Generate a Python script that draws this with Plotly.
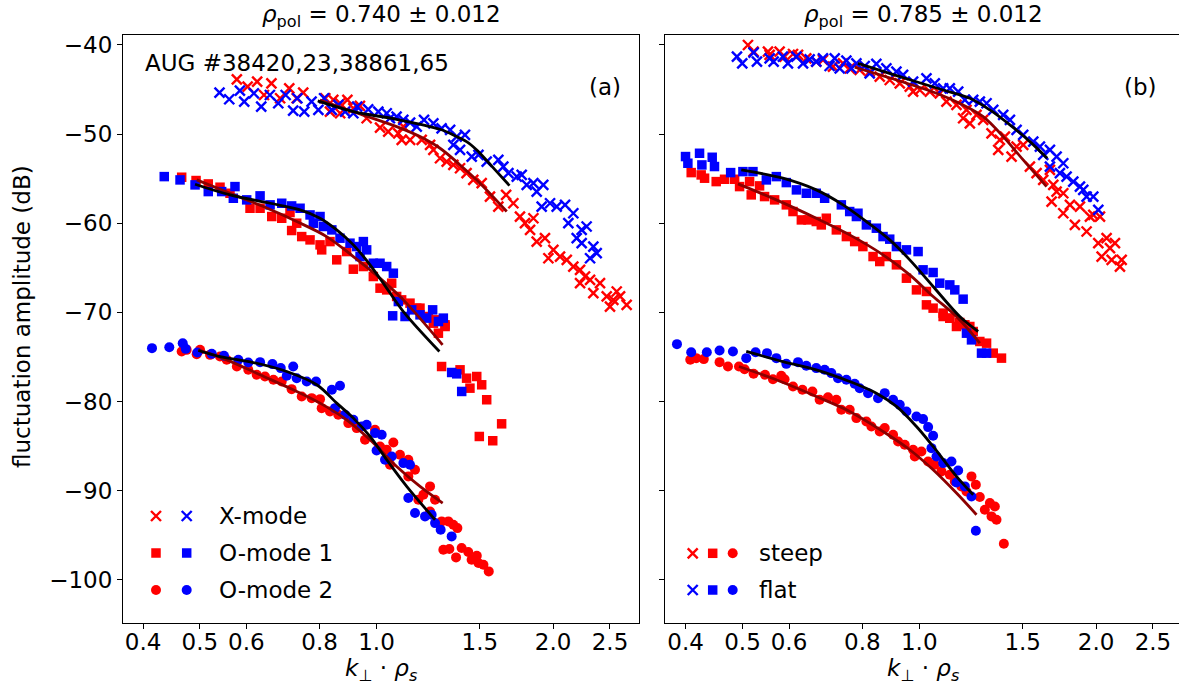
import plotly.graph_objects as go

# ---------------- data ----------------
# panel (a): rho_pol = 0.740
a_x_red_k = [0.578,0.603,0.626,0.662,0.643,0.685,0.710,0.731,0.750,0.818,0.844,0.867,0.892,0.833,0.867,0.913,0.937,0.962,1.014,1.047,
             1.089,1.111,1.141,1.104,1.194,1.234,1.250,1.283,1.317,1.352,1.388,1.424,1.462,1.511,1.561,1.613,1.663,1.711,1.756,1.791,
             1.851,1.827,1.875,1.937,2.002,1.963,2.055,2.110,2.165,2.223,2.267,2.312,2.223,2.342,2.404,2.468,2.533,2.567,2.601,2.669,2.500]
a_x_red_db = [-43.85,-44.67,-44.11,-44.30,-45.61,-45.98,-44.86,-45.98,-45.35,-45.98,-46.17,-46.54,-46.17,-47.48,-47.66,-47.10,-46.84,-48.22,-49.27,-49.72,
              -49.91,-49.16,-50.65,-50.65,-50.65,-51.21,-51.78,-52.71,-53.08,-53.46,-53.83,-54.39,-55.14,-55.51,-57.01,-58.13,-56.82,-57.76,-59.25,-60.00,
              -59.44,-60.75,-62.06,-61.68,-62.99,-63.93,-63.74,-64.11,-64.86,-65.23,-65.98,-66.36,-66.73,-67.85,-66.73,-68.22,-68.60,-67.66,-68.22,-69.16,-69.35]
a_x_blue_k = [0.540,0.561,0.585,0.595,0.618,0.636,0.658,0.680,0.700,0.721,0.753,0.733,0.775,0.796,0.814,0.839,0.861,0.884,0.913,0.927,
              0.968,1.007,1.041,1.054,1.082,1.111,1.141,1.171,1.205,1.250,1.291,1.335,1.370,1.415,1.352,1.388,1.453,1.492,1.541,1.613,
              1.645,1.678,1.734,1.768,1.803,1.851,1.924,1.875,1.912,1.976,2.028,2.096,2.123,2.165,2.237,2.281,2.194,2.237,2.342,2.373,2.312]
a_x_blue_db = [-45.35,-46.09,-45.12,-46.36,-45.42,-46.92,-45.61,-46.54,-45.61,-47.36,-47.48,-45.98,-46.36,-47.29,-45.98,-47.29,-46.73,-47.48,-47.66,-46.92,
               -47.22,-47.48,-47.66,-48.22,-48.04,-48.41,-48.71,-49.16,-48.41,-48.79,-49.35,-49.53,-50.28,-50.09,-51.21,-51.78,-52.52,-52.34,-53.08,-52.90,
               -53.64,-54.39,-54.77,-54.58,-55.70,-55.51,-55.70,-56.45,-58.13,-57.76,-58.13,-57.94,-60.00,-58.88,-60.75,-60.37,-61.68,-62.24,-62.62,-63.36,-63.93]
a_x_fitblack_k = [0.794,0.913,1.082,1.283,1.352,1.424,1.482,1.541,1.603,1.685]
a_x_fitblack_db = [-46.28,-47.48,-48.34,-49.46,-50.09,-50.84,-51.78,-52.97,-54.21,-55.78]
a_x_fitred_k = [0.801,0.937,1.082,1.186,1.283,1.388,1.501,1.667]
a_x_fitred_db = [-46.17,-47.74,-49.16,-50.28,-51.59,-53.46,-55.51,-58.69]

a_o1_red_k = [0.4655,0.4925,0.5167,0.5411,0.5627,0.6087,0.6332,0.6629,0.6894,0.7121,0.7311,0.7167,0.7456,0.7704,0.8012,0.8331,0.8064,0.8554,0.8894,0.9131,
              0.9497,0.9876,1.0139,1.0407,1.0614,1.0823,1.1037,1.1405,1.1861,1.2258,1.2666,1.3087,1.171,1.250,1.275,1.309,1.291,1.388,1.424,1.443,
              1.482,1.511,1.541,1.634,1.497,1.578]
a_o1_red_db = [-54.84,-55.21,-55.59,-55.96,-56.64,-58.32,-58.32,-59.25,-59.44,-58.80,-60.00,-60.82,-61.50,-61.87,-62.43,-62.06,-62.99,-64.11,-63.18,-65.16,
               -64.86,-65.98,-67.29,-67.48,-66.73,-68.22,-68.60,-68.97,-69.53,-70.47,-70.84,-71.40,-69.53,-71.22,-72.34,-71.59,-76.08,-76.45,-77.39,-78.51,
               -77.20,-78.13,-79.81,-82.51,-83.93,-84.41]
a_o1_blue_k = [0.4347,0.4625,0.4906,0.5167,0.5446,0.5738,0.5701,0.6008,0.6332,0.6586,0.6894,0.7167,0.7408,0.7704,0.8012,0.7805,0.8117,0.8392,0.8665,0.9012,
               0.9251,0.9497,0.9621,0.9374,0.9876,1.0139,1.0407,1.0683,1.0894,1.0655,1.1184,1.1480,1.1861,1.2177,1.2465,1.2752,1.2999,1.343,1.370,1.397]
a_o1_blue_db = [-54.77,-55.14,-55.70,-56.45,-56.45,-55.89,-57.20,-57.38,-56.93,-57.94,-57.76,-58.06,-58.32,-59.07,-59.25,-60.00,-60.37,-60.75,-61.68,-62.24,
                -62.62,-62.06,-62.99,-63.74,-64.49,-64.49,-64.86,-65.61,-68.79,-70.39,-70.47,-69.72,-70.28,-70.65,-69.72,-71.03,-70.65,-76.75,-76.90,-78.88]
a_o1_fitblack_k = [0.4906,0.5627,0.6586,0.7408,0.8012,0.8554,0.9131,0.975,1.0407,1.111,1.280]
a_o1_fitblack_db = [-55.63,-56.82,-57.76,-58.50,-59.44,-60.75,-62.43,-64.67,-67.29,-69.91,-74.39]
a_o1_fitred_k = [0.4939,0.5627,0.6413,0.7311,0.8220,0.9131,1.0139,1.1111,1.296]
a_o1_fitred_db = [-55.14,-56.64,-58.13,-59.81,-61.50,-63.74,-66.17,-68.60,-73.65]

a_o2_red_k = [0.4655,0.4747,0.4937,0.5003,0.5203,0.5411,0.5555,0.578,0.6046,0.6249,0.6455,0.6673,0.6894,0.7167,0.7456,0.7754,0.8012,0.8064,0.8331,0.8606,
              0.8953,0.9251,0.9559,0.9941,1.0139,1.0407,1.0683,1.0544,1.0965,1.1330,1.1330,1.1631,1.1785,1.2019,1.2338,1.2338,1.2583,1.2913,1.3257,1.3518,
              1.3736,1.2999,1.3309,1.3664,1.3966,1.4335,1.4525,1.4823,1.4918,1.5214,1.5535]
a_o2_red_db = [-74.39,-74.21,-74.69,-74.21,-74.77,-74.96,-75.33,-76.08,-76.45,-77.01,-77.20,-77.57,-77.76,-78.62,-79.44,-79.63,-79.74,-80.75,-81.12,-81.50,
               -82.43,-82.99,-84.30,-83.18,-85.05,-85.42,-84.60,-87.10,-85.98,-86.54,-88.41,-87.67,-91.03,-90.47,-89.53,-92.34,-91.03,-93.46,-93.46,-93.83,
               -94.21,-96.64,-96.56,-97.50,-96.45,-96.90,-97.76,-97.31,-98.13,-98.32,-99.07]
a_o2_blue_k = [0.4143,0.4434,0.4674,0.4729,0.4950,0.5238,0.5496,0.5814,0.6046,0.6332,0.6646,0.6867,0.7030,0.7211,0.7311,0.7604,0.7888,0.8392,0.8665,0.8496,
               0.8838,0.9131,0.9435,0.9621,0.9941,1.0205,1.0003,1.0339,1.0614,1.1111,1.1405,1.1330,1.1631,1.2097,1.2417,1.2583,1.2863,1.3430]
a_o2_blue_db = [-74.02,-73.91,-73.46,-74.10,-74.51,-74.66,-74.88,-75.33,-75.63,-75.59,-75.81,-76.26,-77.12,-76.08,-77.39,-77.76,-77.76,-78.69,-78.24,-80.75,
                -81.50,-82.06,-82.81,-82.62,-83.55,-83.74,-85.50,-86.54,-86.17,-86.92,-87.10,-90.84,-92.52,-92.90,-92.71,-93.65,-94.39,-95.14]
a_o2_fitblack_k = [0.4970,0.5411,0.6167,0.7030,0.7908,0.8554,0.9131,0.9749,1.0407,1.1257,1.2583]
a_o2_fitblack_db = [-74.28,-74.96,-75.63,-76.64,-78.13,-80.19,-81.87,-83.93,-86.54,-89.53,-93.27]
a_o2_fitred_k = [0.4970,0.5555,0.6332,0.7211,0.8012,0.8894,0.9749,1.0823,1.1861,1.2966]
a_o2_fitred_db = [-74.21,-75.33,-77.01,-78.69,-80.19,-82.06,-84.30,-87.29,-89.53,-91.40]

# panel (b): rho_pol = 0.785
b_x_red_k = [0.5108,0.5222,0.5525,0.5561,0.5783,0.5897,0.6095,0.6216,0.6421,0.6677,0.6855,0.7129,0.7415,0.7612,0.7916,0.8233,0.8564,0.8906,0.9263,0.9634,
             0.9761,1.0020,1.0421,1.0837,1.1124,1.1570,1.2034,1.1877,1.2193,1.2516,1.2848,1.3275,1.3717,1.3627,1.3989,1.4361,1.4645,1.5031,1.5431,1.5840,
             1.6259,1.6692,1.6913,1.7135,1.6801,1.7589,1.7589,1.8054,1.8408,1.8776,1.9273,1.9527,1.9785,2.0311,2.0177,2.0845,2.1122,2.0443,2.1539,2.1262,
             2.1965,2.2113]
b_x_red_db = [-40.00,-40.75,-40.75,-41.12,-40.75,-41.31,-41.01,-41.12,-41.50,-41.87,-41.68,-42.43,-42.06,-42.62,-42.80,-42.99,-43.55,-43.93,-44.30,-44.67,
              -45.23,-45.05,-45.23,-45.42,-46.36,-46.73,-47.29,-48.22,-48.79,-47.85,-48.41,-49.91,-50.65,-51.78,-50.28,-52.52,-51.40,-51.21,-53.64,-54.39,
              -55.14,-54.02,-55.70,-56.45,-57.57,-56.64,-58.88,-57.94,-60.19,-58.13,-60.93,-59.25,-59.07,-59.25,-62.24,-61.68,-62.80,-63.74,-62.24,-64.11,
              -64.86,-64.11]
b_x_blue_k = [0.4892,0.4995,0.5222,0.5291,0.5561,0.5649,0.5858,0.5975,0.6177,0.6339,0.6506,0.6677,0.6855,0.7036,0.7178,0.7320,0.7514,0.7663,0.7815,0.8074,
              0.8233,0.8451,0.8790,0.9143,0.9385,0.9761,1.0285,1.0627,1.0980,1.1272,1.1648,1.1957,1.2355,1.2680,1.3020,1.3365,1.3896,1.4268,1.4645,1.5031,
              1.5636,1.6048,1.6259,1.6692,1.7135,1.7589,1.6692,1.7358,1.7819,1.8292,1.8776,1.9022,1.9273,1.9785,2.0177]
b_x_blue_db = [-41.31,-42.06,-40.86,-41.87,-41.50,-41.87,-41.31,-42.06,-41.31,-42.06,-41.61,-41.87,-41.50,-42.36,-41.50,-42.62,-41.76,-42.62,-42.06,-42.36,
               -43.18,-42.13,-42.62,-42.99,-43.36,-44.11,-43.74,-44.30,-44.86,-44.86,-45.23,-46.17,-46.17,-46.36,-46.54,-47.29,-47.85,-48.41,-49.53,-50.09,
               -50.84,-51.40,-52.34,-51.78,-52.52,-53.27,-53.64,-54.39,-54.77,-55.33,-55.89,-56.26,-57.01,-57.01,-58.50]
b_x_fitblack_k = [0.7864,0.9263,1.0980,1.2193,1.3190,1.4268,1.5431,1.6516]
b_x_fitblack_db = [-42.06,-43.55,-45.05,-45.98,-47.29,-48.97,-50.84,-52.71]
b_x_fitred_k = [0.7762,0.9143,1.0697,1.1877,1.2848,1.3896,1.5031,1.6474]
b_x_fitred_db = [-42.50,-43.93,-45.42,-46.73,-48.04,-50.28,-52.90,-55.89]

b_o1_red_k = [0.4089,0.4252,0.4309,0.4510,0.4660,0.4848,0.4943,0.5141,0.5174,0.5346,0.5452,0.5671,0.5937,0.6095,0.6298,0.6463,0.6677,0.6810,0.6945,0.7224,
              0.7514,0.7762,0.8016,0.8343,0.8564,0.8790,0.9143,0.9509,0.9890,1.0285,1.0285,1.0558,1.0980,1.1272,1.1721,1.2193,1.0980,1.1272,1.1570,1.1957,
              1.2355,1.2680,1.3020,1.3365,1.3804]
b_o1_red_db = [-54.32,-54.58,-54.95,-55.33,-55.07,-55.07,-55.89,-55.33,-56.82,-55.81,-57.01,-57.38,-57.94,-58.69,-59.63,-59.63,-59.81,-60.19,-59.44,-60.75,
               -61.50,-62.06,-62.62,-63.74,-64.30,-63.74,-64.67,-66.17,-67.48,-67.66,-69.16,-69.53,-70.09,-70.65,-71.14,-71.59,-70.47,-70.66,-71.59,-71.40,
               -72.15,-73.27,-73.46,-74.58,-75.14]
b_o1_blue_k = [0.3999,0.4036,0.4225,0.4264,0.4440,0.4480,0.4773,0.5008,0.5209,0.5490,0.5709,0.5937,0.6177,0.6421,0.6677,0.6900,0.7367,0.7612,0.7815,0.7864,
               0.8127,0.8451,0.8676,0.8906,0.9143,0.9509,0.9954,1.0151,1.0558,1.0837,1.1272,1.1495,1.1877,1.2034,1.2272,1.2764,1.3020]
b_o1_blue_db = [-52.52,-53.27,-52.15,-53.46,-52.60,-53.64,-54.32,-54.21,-54.21,-55.14,-54.77,-55.44,-56.26,-56.64,-56.64,-57.20,-57.94,-58.69,-59.25,-58.88,
                -60.19,-60.56,-61.50,-61.79,-62.62,-62.99,-63.18,-65.23,-65.53,-66.73,-66.92,-67.48,-68.52,-72.34,-73.09,-74.58,-74.58]
b_o1_fitblack_k = [0.4976,0.5858,0.6677,0.7415,0.8127,0.8906,0.9634,1.0558,1.1721,1.2597]
b_o1_fitblack_db = [-54.02,-54.95,-56.26,-57.94,-59.81,-61.87,-64.11,-67.10,-70.47,-72.15]
b_o1_fitred_k = [0.4911,0.5709,0.6677,0.7612,0.8676,0.9634,1.0558,1.1570,1.2680]
b_o1_fitred_db = [-55.59,-57.38,-59.44,-61.31,-63.55,-65.79,-68.22,-70.47,-73.46]

b_o2_red_k = [0.4074,0.4170,0.4296,0.4570,0.4723,0.4931,0.5041,0.5222,0.5461,0.5634,0.5821,0.5897,0.6095,0.6324,0.6576,0.6766,0.6991,0.7224,0.7367,0.7612,
              0.7815,0.8127,0.8289,0.8564,0.8733,0.9024,0.9203,0.9447,0.9761,0.9825,1.0085,1.0353,1.0627,1.0908,1.1272,1.1495,1.1799,1.2034,1.2272,1.2484,
              1.2680,1.2931,1.3190,1.3450,1.3536,1.3275,1.3932]
b_o2_red_db = [-75.33,-75.14,-75.25,-75.59,-76.08,-76.08,-76.38,-76.90,-77.01,-77.50,-77.12,-77.50,-78.32,-78.69,-78.88,-79.81,-79.52,-79.81,-80.94,-80.94,
               -81.87,-82.24,-82.81,-83.37,-82.99,-83.74,-84.49,-84.86,-85.42,-86.17,-85.61,-86.73,-87.10,-87.85,-88.23,-88.97,-89.53,-90.10,-88.41,-89.35,
               -90.73,-92.15,-91.40,-91.78,-93.27,-92.90,-95.96]
b_o2_blue_k = [0.3867,0.4089,0.4347,0.4570,0.4816,0.5074,0.5263,0.5504,0.5709,0.5937,0.6216,0.6421,0.6677,0.6900,0.7083,0.7271,0.7514,0.7762,0.7916,0.8181,
               0.8507,0.8733,0.9024,0.9263,0.9509,0.9890,1.0151,1.0353,1.0558,1.0490,1.0697,1.0980,1.1345,1.1648,1.1570,1.1957,1.2272,1.2484]
b_o2_blue_db = [-73.57,-74.47,-74.47,-74.28,-74.39,-75.14,-74.47,-74.58,-75.14,-75.78,-75.59,-76.00,-76.26,-76.45,-76.82,-77.39,-77.57,-78.02,-78.51,-79.07,
                -79.63,-79.07,-79.81,-80.38,-81.12,-81.68,-81.98,-82.88,-83.85,-85.24,-86.17,-86.92,-86.73,-87.74,-89.09,-89.53,-90.66,-94.51]
b_o2_fitblack_k = [0.5074,0.5858,0.6677,0.7612,0.8451,0.9143,0.9890,1.0558,1.1570,1.2355]
b_o2_fitblack_db = [-74.39,-75.52,-76.45,-77.76,-79.07,-80.56,-82.81,-85.05,-88.41,-90.47]
b_o2_fitred_k = [0.4931,0.5709,0.6677,0.7612,0.8676,0.9634,1.0558,1.1570,1.2516]
b_o2_fitred_db = [-76.08,-77.57,-79.44,-81.12,-83.37,-85.42,-87.67,-90.28,-92.71]

x_tick_vals = [0.4, 0.5, 0.6, 0.8, 1.0, 1.5, 2.0, 2.5]
x_tick_text = ["0.4", "0.5", "0.6", "0.8", "1.0", "1.5", "2.0", "2.5"]
y_tick_vals = [-100, -90, -80, -70, -60, -50, -40]
y_tick_text = ["\u2212100", "\u221290", "\u221280", "\u221270", "\u221260", "\u221250", "\u221240"]

titles = ["<i>\u03c1</i><sub>pol</sub> = 0.740 \u00b1 0.012", "<i>\u03c1</i><sub>pol</sub> = 0.785 \u00b1 0.012"]
panel_tags = ["(a)", "(b)"]
shot_text = "AUG #38420,23,38861,65"
legend_a = ["X-mode", "O-mode 1", "O-mode 2"]
legend_b = ["steep", "flat"]

# ---------------- styling ----------------
RED = "#ff0000"
BLUE = "#0000ff"
FIT_RED = "#8b0000"
FIT_BLACK = "#000000"
FONT = "DejaVu Sans"
FS = 23

W, H = 1179, 696
ML, MR, MT, MB = 123, 0, 35, 73
PW, PH = W - ML - MR, H - MT - MB

def px_x(px):
    return (px - ML) / PW

def px_y(py):
    return (H - MB - py) / PH

fig = go.Figure()

def marker_style(kind, color):
    if kind == "x":
        return dict(symbol="x-thin", size=10, color=color, line=dict(color=color, width=2.4))
    if kind == "s":
        return dict(symbol="square", size=9.5, color=color, line=dict(width=0))
    return dict(symbol="circle", size=10, color=color, line=dict(width=0))

def add_points(k, db, kind, color, xa, ya):
    fig.add_trace(go.Scatter(x=k, y=db, mode="markers", marker=marker_style(kind, color),
                             xaxis=xa, yaxis=ya, showlegend=False, hoverinfo="skip", cliponaxis=False))

def add_fit(k, db, color, xa, ya):
    fig.add_trace(go.Scatter(x=k, y=db, mode="lines", line=dict(color=color, width=2.8, shape="spline", smoothing=1.0),
                             xaxis=xa, yaxis=ya, showlegend=False, hoverinfo="skip"))

panels = [
    ("x", "y", [
        (a_x_red_k, a_x_red_db, a_x_blue_k, a_x_blue_db, "x", a_x_fitred_k, a_x_fitred_db, a_x_fitblack_k, a_x_fitblack_db),
        (a_o1_red_k, a_o1_red_db, a_o1_blue_k, a_o1_blue_db, "s", a_o1_fitred_k, a_o1_fitred_db, a_o1_fitblack_k, a_o1_fitblack_db),
        (a_o2_red_k, a_o2_red_db, a_o2_blue_k, a_o2_blue_db, "o", a_o2_fitred_k, a_o2_fitred_db, a_o2_fitblack_k, a_o2_fitblack_db),
    ]),
    ("x2", "y2", [
        (b_x_red_k, b_x_red_db, b_x_blue_k, b_x_blue_db, "x", b_x_fitred_k, b_x_fitred_db, b_x_fitblack_k, b_x_fitblack_db),
        (b_o1_red_k, b_o1_red_db, b_o1_blue_k, b_o1_blue_db, "s", b_o1_fitred_k, b_o1_fitred_db, b_o1_fitblack_k, b_o1_fitblack_db),
        (b_o2_red_k, b_o2_red_db, b_o2_blue_k, b_o2_blue_db, "o", b_o2_fitred_k, b_o2_fitred_db, b_o2_fitblack_k, b_o2_fitblack_db),
    ]),
]

for xa, ya, groups in panels:
    for (rk, rdb, bk, bdb, kind, frk, frdb, fbk, fbdb) in groups:
        add_points(rk, rdb, kind, RED, xa, ya)
        add_points(bk, bdb, kind, BLUE, xa, ya)
    for (rk, rdb, bk, bdb, kind, frk, frdb, fbk, fbdb) in groups:
        add_fit(frk, frdb, FIT_RED, xa, ya)
        add_fit(fbk, fbdb, FIT_BLACK, xa, ya)

# ---------------- legend keys (plot-area fraction coordinates) ----------------
def leg_marker(x, y, kind, color):
    fig.add_trace(go.Scatter(x=[x], y=[y], mode="markers", marker=marker_style(kind, color),
                             xaxis="x3", yaxis="y3", showlegend=False, hoverinfo="skip"))

rows_a = [px_y(516), px_y(553), px_y(590)]
for kind, yy in zip(["x", "s", "o"], rows_a):
    leg_marker(px_x(156), yy, kind, RED)
    leg_marker(px_x(186.7), yy, kind, BLUE)
rows_b = [px_y(553.3), px_y(590)]
for color, yy in zip([RED, BLUE], rows_b):
    for kind, xx in zip(["x", "s", "o"], [px_x(692.7), px_x(712.7), px_x(732.7)]):
        leg_marker(xx, yy, kind, color)

# ---------------- axes ----------------
axis_common = dict(showgrid=False, zeroline=False, showline=True, linecolor="black", linewidth=1.2,
                   ticks="outside", ticklen=5, tickwidth=1.2, tickcolor="black",
                   tickfont=dict(family=FONT, size=FS, color="black"))

dom_a = [0.0, px_x(639)]
dom_b = [px_x(665.3), 1.0]

fig.update_layout(
    width=W, height=H,
    margin=dict(l=ML, r=MR, t=MT, b=MB, pad=0),
    paper_bgcolor="white", plot_bgcolor="rgba(0,0,0,0)",
    font=dict(family=FONT, size=FS, color="black"),
    showlegend=False,
    xaxis=dict(type="log", domain=dom_a, range=[-0.4321, 0.4474], anchor="y", mirror=True,
               tickmode="array", tickvals=x_tick_vals, ticktext=x_tick_text, ticklabelstandoff=-7, **axis_common),
    yaxis=dict(domain=[0, 1], range=[-104.86, -38.88], anchor="x", mirror=True,
               tickmode="array", tickvals=y_tick_vals, ticktext=y_tick_text, **axis_common),
    xaxis2=dict(type="log", domain=dom_b, range=[-0.4325, 0.4423], anchor="y2", mirror=True,
                tickmode="array", tickvals=x_tick_vals, ticktext=x_tick_text, ticklabelstandoff=-7, **axis_common),
    yaxis2=dict(domain=[0, 1], range=[-104.86, -38.88], anchor="x2", mirror=False, matches="y",
                tickmode="array", tickvals=y_tick_vals, ticktext=y_tick_text, showticklabels=False, **axis_common),
    xaxis3=dict(domain=[0, 1], range=[0, 1], anchor="y3", visible=False, fixedrange=True),
    yaxis3=dict(domain=[0, 1], range=[0, 1], anchor="x3", visible=False, fixedrange=True),
)

def ann(text, x, y, xanchor="center", yanchor="middle", angle=0, size=FS):
    fig.add_annotation(text=text, x=x, y=y, xref="paper", yref="paper", showarrow=False,
                       xanchor=xanchor, yanchor=yanchor, textangle=angle,
                       font=dict(family=FONT, size=size, color="black"))

cx_a = px_x((123 + 639) / 2)
cx_b = px_x((665.3 + 1181) / 2)
ann(titles[0], cx_a, px_y(16))
ann(titles[1], cx_b, px_y(16))
xlab = "<i>k</i><sub>\u22a5</sub> \u00b7 <i>\u03c1</i><sub><i>s</i></sub>"
ann(xlab, cx_a, px_y(670))
ann(xlab, cx_b, px_y(670))
ann("fluctuation amplitude (dB)", px_x(22), px_y(317), angle=-90)
ann(shot_text, px_x(143.3), px_y(63.3), xanchor="left")
ann(panel_tags[0], px_x(605), px_y(86.7))
ann(panel_tags[1], px_x(1140), px_y(86.7))
for txt, yy in zip(legend_a, rows_a):
    ann(txt, px_x(216.7), yy, xanchor="left")
for txt, yy in zip(legend_b, rows_b):
    ann(txt, px_x(757.3), yy, xanchor="left")

# remove the browser's default 8 px page margin so the figure sits at the window origin
fig.write_html("out.html", config={"displayModeBar": False},
               post_script="document.body.style.margin='0px';document.body.style.padding='0px';")
